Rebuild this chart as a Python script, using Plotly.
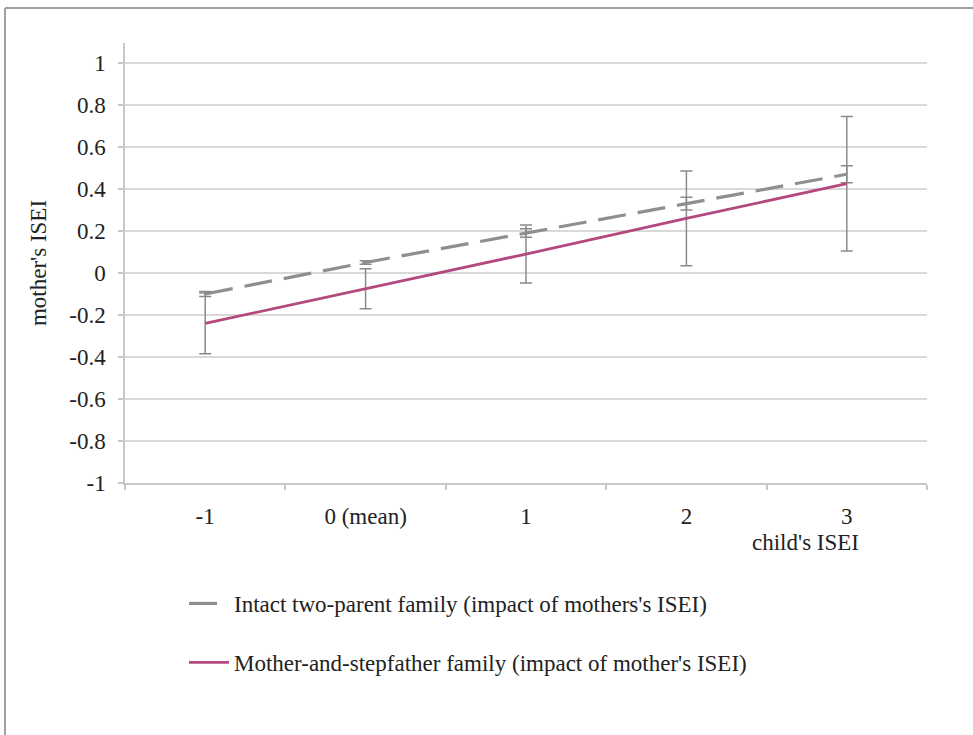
import plotly.graph_objects as go

categories = ["-1", "0 (mean)", "1", "2", "3"]
intact_vals = [-0.10, 0.05, 0.19, 0.33, 0.47]
intact_err = [0.012, 0.008, 0.02, 0.03, 0.04]
step_vals = [-0.24, -0.075, 0.09, 0.26, 0.425]
step_err = [0.145, 0.095, 0.138, 0.225, 0.32]
y_ticks = [1, 0.8, 0.6, 0.4, 0.2, 0, -0.2, -0.4, -0.6, -0.8, -1]
y_tick_labels = ["1", "0.8", "0.6", "0.4", "0.2", "0", "-0.2", "-0.4", "-0.6", "-0.8", "-1"]

W, H = 973, 735
ML, MR, MT, MB = 125, 46, 43, 252
FONT = "Liberation Serif"
FS = 23
TXT = "#222222"

fig = go.Figure()
fig.add_trace(go.Scatter(
    x=categories, y=intact_vals, mode="lines",
    name="Intact two-parent family (impact of mothers's ISEI)",
    line=dict(color="#8f8f8f", width=3.2, dash="28px,12px"),
    error_y=dict(type="data", array=intact_err, color="#8a8a8a", thickness=1.5, width=6),
    legendgroup="a",
))
fig.add_trace(go.Scatter(
    x=categories, y=step_vals, mode="lines",
    name="Mother-and-stepfather family (impact of mother's ISEI)",
    line=dict(color="#b3497f", width=2.8),
    error_y=dict(type="data", array=step_err, color="#8a8a8a", thickness=1.5, width=6),
    legendgroup="b",
))

pw = W - ML - MR
ph = H - MT - MB
def px_x(p):
    return (p - ML) / pw
def px_y(p):
    return (H - MB - p) / ph

fig.update_layout(
    width=W, height=H,
    margin=dict(l=ML, r=MR, t=MT, b=MB, pad=0),
    paper_bgcolor="white", plot_bgcolor="white",
    font=dict(family=FONT, size=FS, color=TXT),
    showlegend=True,
    legend=dict(
        x=px_x(184), y=px_y(582), xanchor="left", yanchor="top",
        orientation="v", traceorder="grouped", tracegroupgap=26,
        font=dict(family=FONT, size=FS, color=TXT),
        bgcolor="rgba(0,0,0,0)", itemwidth=40,
    ),
    xaxis=dict(
        type="category", range=[-0.5, 4.5], showgrid=False,
        showline=True, linecolor="#c8c8c8", linewidth=1.5,
        ticks="outside", tickson="boundaries", ticklen=5, tickcolor="#c8c8c8",
        tickwidth=1.5, ticklabelstandoff=12, zeroline=False,
        tickfont=dict(family=FONT, size=FS, color=TXT),
    ),
    yaxis=dict(
        range=[-1, 1.095], tickvals=y_ticks, ticktext=y_tick_labels,
        showgrid=True, gridcolor="#d9d9d9", gridwidth=1.5,
        showline=True, linecolor="#c8c8c8", linewidth=1.5,
        ticks="outside", ticklen=5, tickcolor="#c8c8c8", tickwidth=1.5,
        ticklabelstandoff=8, zeroline=False,
        tickfont=dict(family=FONT, size=FS, color=TXT),
        title=dict(text="mother's ISEI", font=dict(family=FONT, size=FS, color=TXT), standoff=16),
    ),
    annotations=[dict(
        text="child's ISEI", xref="paper", yref="paper",
        x=px_x(861), y=px_y(542), xanchor="right", yanchor="middle",
        showarrow=False, font=dict(family=FONT, size=FS, color=TXT),
    )],
    shapes=[
        dict(type="line", xref="paper", yref="paper",
             x0=px_x(5), x1=px_x(980), y0=px_y(8), y1=px_y(8),
             line=dict(color="#a0a0a0", width=2)),
        dict(type="line", xref="paper", yref="paper",
             x0=px_x(5), x1=px_x(5), y0=px_y(8), y1=px_y(740),
             line=dict(color="#a0a0a0", width=2)),
    ],
)

fig.write_html(
    "out.html",
    config={"displayModeBar": False},
    post_script="document.body.style.margin='0';document.body.style.overflow='hidden';",
)
